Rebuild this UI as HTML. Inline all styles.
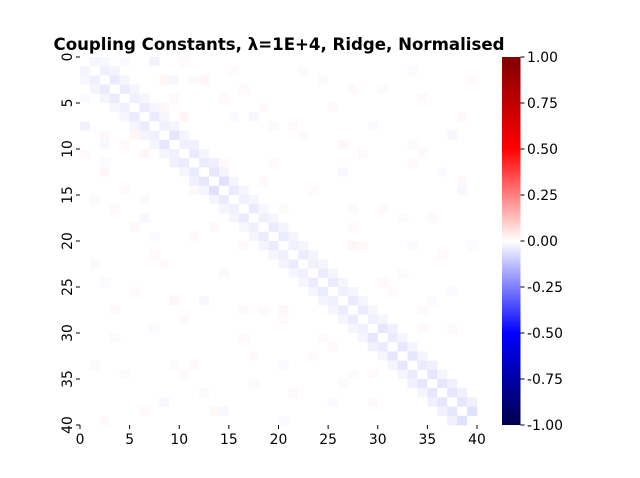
<!DOCTYPE html>
<html><head><meta charset="utf-8">
<style>
html,body{margin:0;padding:0;background:#fff;}
svg{display:block;font-family:"DejaVu Sans","Liberation Sans",sans-serif;}
</style></head>
<body>
<svg id="chart" width="640" height="478" viewBox="0 0 640 478" xmlns="http://www.w3.org/2000/svg">
<defs>
<linearGradient id="cbg" x1="0" y1="1" x2="0" y2="0">
<stop offset="0" stop-color="#00004c"/>
<stop offset="0.25" stop-color="#0000ff"/>
<stop offset="0.5" stop-color="#ffffff"/>
<stop offset="0.75" stop-color="#ff0000"/>
<stop offset="1" stop-color="#800000"/>
</linearGradient>
</defs>
<text x="279" y="50" text-anchor="middle" font-size="16.6" font-weight="bold">Coupling Constants, λ=1E+4, Ridge, Normalised</text>
<g id="cells"></g>
<g id="axes"></g>
<rect x="502" y="57" width="18.5" height="368" fill="url(#cbg)"/>
<g id="cbar"></g>
</svg>
<script>
const n = 40;
const off1 = [-0.02,-0.03,-0.04,-0.04,-0.03,-0.04,-0.04,-0.03,-0.05,-0.03,-0.04,-0.04,-0.05,-0.06,-0.04,-0.03,-0.04,-0.03,-0.04,-0.04,-0.03,-0.04,-0.03,-0.04,-0.04,-0.03,-0.04,-0.04,-0.03,-0.05,-0.04,-0.05,-0.05,-0.04,-0.05,-0.05,-0.05,-0.05,-0.06];
const off2 = [-0.015,-0.02,-0.02,-0.02,-0.02,-0.02,-0.02,-0.02,-0.02,-0.03,-0.02,-0.03,-0.02,-0.02,-0.02,-0.02,-0.015,-0.02,-0.02,-0.02,-0.02,-0.02,-0.02,-0.02,-0.02,-0.02,-0.02,-0.02,-0.02,-0.03,-0.02,-0.02,-0.02,-0.03,-0.02,-0.03,-0.03,-0.03];
const extraCells = [[0,10,0.015],[1,15,0.012],[2,12,0.015],[3,16,0.012],[4,14,0.012],[5,8,0.015],[6,10,0.02],[7,0,-0.025],[8,2,0.015],[9,4,0.012],[10,0,0.012],[2,9,-0.015],[11,14,0.012],[13,18,0.012],[16,20,0.01],[18,5,0.012],[20,27,0.015],[22,8,0.012],[24,30,0.012],[26,9,0.015],[27,3,0.012],[28,20,0.012],[30,16,0.012],[32,23,0.01],[34,10,0.012],[35,17,0.012],[36,21,0.012],[38,6,0.012],[38,13,0.012],[39,2,0.012],[6,17,-0.015],[12,26,-0.015],[21,7,0.012],[17,32,0.01],[14,38,-0.015],[25,37,-0.01],[29,34,0.012],[33,11,0.01],
[0,4,-0.01],[1,22,0.01],[3,30,-0.01],[5,25,0.01],[7,19,-0.01],[9,33,0.01],[11,2,-0.01],[12,36,0.01],[15,6,-0.01],[16,27,0.01],[19,11,0.01],[20,33,-0.01],[23,14,0.01],[24,2,-0.01],[26,35,-0.01],[27,18,0.01],[29,7,-0.01],[31,25,0.01],[33,1,-0.01],[34,27,0.01],[36,12,-0.01],[37,29,0.01],[39,20,-0.01],[10,28,0.01],[8,37,-0.015],[4,34,0.01]];
const cbTicks = [1.0,0.75,0.5,0.25,0.0,-0.25,-0.5,-0.75,-1.0];
const axTicks = [0,5,10,15,20,25,30,35,40];

const X0=80,X1=477,Y0=57,Y1=425;
const xs = j => X0 + j*(X1-X0)/n;
const ys = i => Y0 + i*(Y1-Y0)/n;
const cbY = v => Y0 + (1-v)/2*(Y1-Y0);

function color(v){
  v=Math.max(-1,Math.min(1,v));
  let r,g,b;
  if(v<=-0.5){const t=(v+1)/0.5;r=0;g=0;b=76+t*(255-76);}
  else if(v<=0){const t=(v+0.5)/0.5;r=t*255;g=t*255;b=255;}
  else if(v<=0.5){const t=v/0.5;r=255;g=255*(1-t);b=255*(1-t);}
  else {const t=(v-0.5)/0.5;r=255-t*127;g=0;b=0;}
  return `rgb(${Math.round(r)},${Math.round(g)},${Math.round(b)})`;
}
const M=[];
for(let i=0;i<n;i++){M.push(new Array(n).fill(0));}
off1.forEach((v,k)=>{M[k][k+1]=v;M[k+1][k]=v;});
off2.forEach((v,k)=>{M[k][k+2]=v;M[k+2][k]=v;});
extraCells.forEach(([i,j,v])=>{M[i][j]=v;M[j][i]=v;});
for(let i=0;i<n;i++)M[i][i]=0;

const NS="http://www.w3.org/2000/svg";
const cells=document.getElementById('cells');
for(let i=0;i<n;i++)for(let j=0;j<n;j++){
  const r=document.createElementNS(NS,'rect');
  r.setAttribute('x',xs(j));r.setAttribute('y',ys(i));
  r.setAttribute('width',xs(j+1)-xs(j)+0.3);r.setAttribute('height',ys(i+1)-ys(i)+0.3);
  r.setAttribute('fill',color(M[i][j]));
  
  
  cells.appendChild(r);
}
const axes=document.getElementById('axes');
axTicks.forEach(t=>{
  const x=xs(t);
  const l=document.createElementNS(NS,'line');
  l.setAttribute('x1',x);l.setAttribute('x2',x);l.setAttribute('y1',Y1);l.setAttribute('y2',Y1+4);l.setAttribute('stroke','#000');
  
  
  axes.appendChild(l);
  const tx=document.createElementNS(NS,'text');
  tx.setAttribute('x',x);tx.setAttribute('y',Y1+19);tx.setAttribute('text-anchor','middle');tx.setAttribute('font-size','13.9');
  tx.textContent=t;
  
  
  axes.appendChild(tx);
  const y=ys(t);
  const l2=document.createElementNS(NS,'line');
  l2.setAttribute('x1',X0-4);l2.setAttribute('x2',X0);l2.setAttribute('y1',y);l2.setAttribute('y2',y);l2.setAttribute('stroke','#000');
  
  
  axes.appendChild(l2);
  const ty=document.createElementNS(NS,'text');
  ty.setAttribute('transform',`translate(${X0-8},${y}) rotate(-90)`);
  ty.setAttribute('text-anchor','middle');ty.setAttribute('font-size','13.9');
  ty.textContent=t;
  
  
  axes.appendChild(ty);
});
const cb=document.getElementById('cbar');
cbTicks.forEach(v=>{
  const y=cbY(v);
  const l=document.createElementNS(NS,'line');
  l.setAttribute('x1',520.5);l.setAttribute('x2',524.5);l.setAttribute('y1',y);l.setAttribute('y2',y);l.setAttribute('stroke','#000');
  
  
  cb.appendChild(l);
  const t=document.createElementNS(NS,'text');
  t.setAttribute('x',527);t.setAttribute('y',y+5);t.setAttribute('font-size','13.9');
  t.textContent=v.toFixed(2);
  
  
  cb.appendChild(t);
});
</script>
</body></html>
